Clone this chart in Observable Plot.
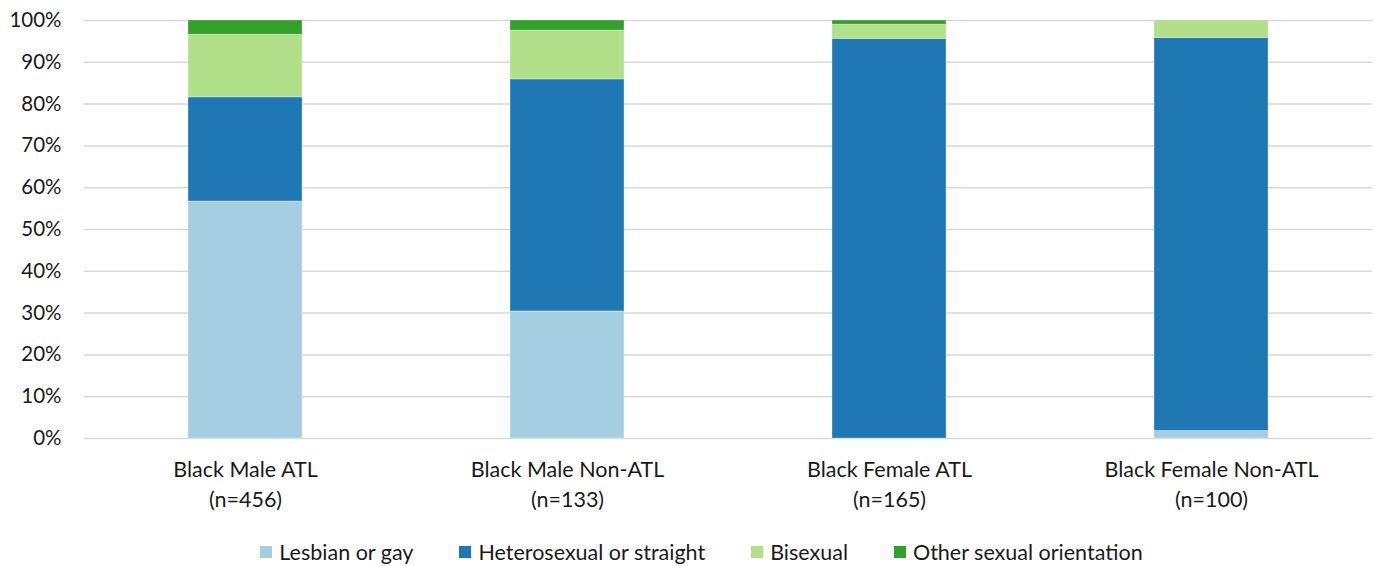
<!DOCTYPE html>
<html>
<head>
<meta charset="utf-8">
<script src="https://cdn.jsdelivr.net/npm/d3@7"></script>
<script src="https://cdn.jsdelivr.net/npm/@observablehq/plot@0.6"></script>
<style>
  html, body { margin: 0; padding: 0; background: #fff; }
  body { width: 1375px; height: 566px; overflow: hidden; font-family: Lato, "Open Sans", sans-serif; }
  #legend { display: flex; justify-content: center; align-items: center; gap: 46px; height: 51px; padding-top: 22px; padding-left: 28px; box-sizing: border-box; font-size: 21.5px; color: #1a1a1a; }
  #legend .item { display: flex; align-items: center; gap: 7px; }
  #legend .sw { width: 12px; height: 12px; display: inline-block; }
</style>
</head>
<body>
<div id="chart"></div>
<div id="legend"></div>
<script>
// Groups along the x axis, with their sample sizes
const groups = ["Black Male ATL", "Black Male Non-ATL", "Black Female ATL", "Black Female Non-ATL"];
const sampleSizes = [456, 133, 165, 100];

// Stacked series (percent of each group), bottom to top
const orientations = ["Lesbian or gay", "Heterosexual or straight", "Bisexual", "Other sexual orientation"];
const lesbianGay   = [56.7, 30.4, 0.0, 1.8];
const heterosexual = [24.9, 55.5, 95.6, 94.0];
const bisexual     = [15.0, 11.7, 3.4, 4.2];
const otherOrient  = [3.4, 2.4, 1.0, 0.0];
const colors = ["#a6cee3", "#1f78b4", "#b2df8a", "#33a02c"];

const yTicks = [0, 10, 20, 30, 40, 50, 60, 70, 80, 90, 100];

const series = [lesbianGay, heterosexual, bisexual, otherOrient];
const rows = [];
groups.forEach((g, i) => {
  series.forEach((s, k) => rows.push({group: g, orientation: orientations[k], value: s[i]}));
});

const labelOf = new Map(groups.map((g, i) => [g, `${g}\n(n=${sampleSizes[i]})`]));

const chart = Plot.plot({
  width: 1375,
  height: 515,
  marginTop: 20,
  marginBottom: 77,
  marginLeft: 84,
  marginRight: 3,
  style: {fontFamily: "Lato, 'Open Sans', sans-serif", fontSize: "21px", color: "#1a1a1a", background: "#fff"},
  x: {domain: groups, paddingInner: 0.646, paddingOuter: 0.323, label: null},
  y: {domain: [0, 100], label: null},
  color: {domain: orientations, range: colors},
  marks: [
    Plot.ruleY(yTicks, {stroke: "#d9d9d9", strokeWidth: 1.5}),
    Plot.barY(rows, Plot.stackY({
      x: "group", y: "value", fill: "orientation",
      order: orientations, stroke: "#fff", strokeOpacity: 0.35, strokeWidth: 0.8
    })),
    Plot.axisY({ticks: yTicks, tickFormat: d => d + "%", tickSize: 0, tickPadding: 23, fontSize: 20.5, label: null}),
    Plot.axisX({tickSize: 0, tickPadding: 17, fontSize: 21.5, lineHeight: 1.4, tickFormat: d => labelOf.get(d), label: null})
  ]
});
document.getElementById("chart").appendChild(chart);

const legend = document.getElementById("legend");
orientations.forEach((o, k) => {
  const item = document.createElement("div");
  item.className = "item";
  const sw = document.createElement("span");
  sw.className = "sw";
  sw.style.background = colors[k];
  const t = document.createElement("span");
  t.textContent = o;
  item.appendChild(sw);
  item.appendChild(t);
  legend.appendChild(item);
});
</script>
</body>
</html>
